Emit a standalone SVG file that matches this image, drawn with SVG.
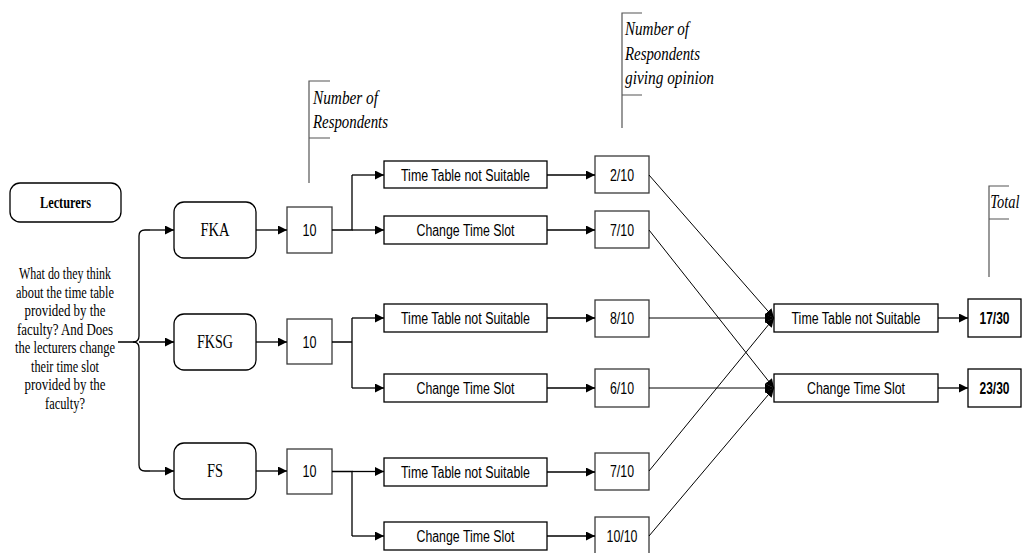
<svg xmlns="http://www.w3.org/2000/svg" width="1025" height="553" viewBox="0 0 1025 553">
<defs>
<marker id="arr" markerUnits="userSpaceOnUse" markerWidth="10" markerHeight="9" refX="9" refY="4.5" orient="auto">
<path d="M0,0 L9,4.5 L0,9 z" fill="#000"/>
</marker>
<style>
.rbox{fill:#fff;stroke:#000;stroke-width:1.3}
.gbox{fill:#fff;stroke:#3a3a3a;stroke-width:1.3}
.sbox{fill:#fff;stroke:#000;stroke-width:1.3}
.ln{fill:none;stroke:#000;stroke-width:1.3}
.ar{fill:none;stroke:#000;stroke-width:1.3;marker-end:url(#arr)}
.dg{fill:none;stroke:#000;stroke-width:1;marker-end:url(#arr)}
.br{fill:none;stroke:#555;stroke-width:1.2}
.sans{font-family:"Liberation Sans",Arial,sans-serif;font-size:16px;fill:#000;text-anchor:middle}
.bold{font-weight:bold}
.serif{font-family:"Liberation Serif","Times New Roman",serif;fill:#000;text-anchor:middle}
.q{font-size:16px}
.ital{font-family:"Liberation Serif","Times New Roman",serif;font-style:italic;font-size:19px;fill:#000}
</style>
</defs>
<rect width="1025" height="553" fill="#fff"/>

<g id="lecturers">
<rect class="rbox" x="10" y="183" width="111" height="39" rx="10"/>
<text class="serif bold" x="65.5" y="207.5" font-size="16" textLength="51" lengthAdjust="spacingAndGlyphs">Lecturers</text>
</g>

<g id="question">
<text class="serif q" x="65" y="279" textLength="92" lengthAdjust="spacingAndGlyphs">What do they think</text>
<text class="serif q" x="65" y="297.5" textLength="98" lengthAdjust="spacingAndGlyphs">about the time table</text>
<text class="serif q" x="65" y="316" textLength="81" lengthAdjust="spacingAndGlyphs">provided by the</text>
<text class="serif q" x="65" y="334.5" textLength="96" lengthAdjust="spacingAndGlyphs">faculty? And Does</text>
<text class="serif q" x="65" y="353" textLength="100" lengthAdjust="spacingAndGlyphs">the lecturers change</text>
<text class="serif q" x="65" y="371.5" textLength="68" lengthAdjust="spacingAndGlyphs">their time slot</text>
<text class="serif q" x="65" y="390" textLength="81" lengthAdjust="spacingAndGlyphs">provided by the</text>
<text class="serif q" x="65" y="408.5" textLength="40" lengthAdjust="spacingAndGlyphs">faculty?</text>
</g>

<g id="label-respondents">
<path class="br" d="M330,81 H309 V183 M309,138 H330"/>
<text class="ital" x="313" y="104" textLength="65" lengthAdjust="spacingAndGlyphs">Number of</text>
<text class="ital" x="313" y="128" textLength="75" lengthAdjust="spacingAndGlyphs">Respondents</text>
</g>
<g id="label-opinion">
<path class="br" d="M642,13 H622 V128 M622,95 H642"/>
<text class="ital" x="625" y="35" textLength="64" lengthAdjust="spacingAndGlyphs">Number of</text>
<text class="ital" x="625" y="60" textLength="75" lengthAdjust="spacingAndGlyphs">Respondents</text>
<text class="ital" x="625" y="84" textLength="89" lengthAdjust="spacingAndGlyphs">giving opinion</text>
</g>
<g id="label-total">
<path class="br" d="M1009,186 H989 V277 M989,219 H1009"/>
<text class="ital" transform="scale(0.76,1)" x="1303" y="208">Total</text>
</g>

<g id="fka">
<rect class="rbox" x="174" y="202" width="82" height="56" rx="10"/>
<text class="serif" x="215" y="236" font-size="18" textLength="29" lengthAdjust="spacingAndGlyphs">FKA</text>
</g>
<g id="fksg">
<rect class="rbox" x="174" y="314" width="82" height="56" rx="10"/>
<text class="serif" x="215" y="348" font-size="18" textLength="36" lengthAdjust="spacingAndGlyphs">FKSG</text>
</g>
<g id="fs">
<rect class="rbox" x="174" y="443" width="82" height="56" rx="10"/>
<text class="serif" x="215" y="477" font-size="18" textLength="16" lengthAdjust="spacingAndGlyphs">FS</text>
</g>

<g id="n-fka">
<rect class="gbox" x="287" y="207" width="45" height="46"/>
<text class="sans" x="309.5" y="236" textLength="14" lengthAdjust="spacingAndGlyphs">10</text>
</g>
<g id="n-fksg">
<rect class="gbox" x="287" y="319" width="45" height="45"/>
<text class="sans" x="309.5" y="348" textLength="14" lengthAdjust="spacingAndGlyphs">10</text>
</g>
<g id="n-fs">
<rect class="gbox" x="287" y="449" width="45" height="45"/>
<text class="sans" x="309.5" y="477" textLength="14" lengthAdjust="spacingAndGlyphs">10</text>
</g>

<g id="tt-fka">
<rect class="sbox" x="384" y="161" width="163" height="27"/>
<text class="sans" x="465.5" y="180.5" textLength="129" lengthAdjust="spacingAndGlyphs">Time Table not Suitable</text>
</g>
<g id="cs-fka">
<rect class="sbox" x="384" y="216" width="163" height="28"/>
<text class="sans" x="465.5" y="236" textLength="98" lengthAdjust="spacingAndGlyphs">Change Time Slot</text>
</g>
<g id="tt-fksg">
<rect class="sbox" x="384" y="304" width="163" height="28"/>
<text class="sans" x="465.5" y="324" textLength="129" lengthAdjust="spacingAndGlyphs">Time Table not Suitable</text>
</g>
<g id="cs-fksg">
<rect class="sbox" x="384" y="374" width="163" height="28"/>
<text class="sans" x="465.5" y="394" textLength="98" lengthAdjust="spacingAndGlyphs">Change Time Slot</text>
</g>
<g id="tt-fs">
<rect class="sbox" x="384" y="458" width="163" height="28"/>
<text class="sans" x="465.5" y="478" textLength="129" lengthAdjust="spacingAndGlyphs">Time Table not Suitable</text>
</g>
<g id="cs-fs">
<rect class="sbox" x="384" y="522" width="163" height="28"/>
<text class="sans" x="465.5" y="542" textLength="98" lengthAdjust="spacingAndGlyphs">Change Time Slot</text>
</g>

<g id="r-fka-tt">
<rect class="gbox" x="595" y="156" width="54" height="37"/>
<text class="sans" x="622" y="180.5" textLength="24" lengthAdjust="spacingAndGlyphs">2/10</text>
</g>
<g id="r-fka-cs">
<rect class="gbox" x="595" y="211" width="54" height="37"/>
<text class="sans" x="622" y="235.5" textLength="24" lengthAdjust="spacingAndGlyphs">7/10</text>
</g>
<g id="r-fksg-tt">
<rect class="gbox" x="595" y="300" width="54" height="37"/>
<text class="sans" x="622" y="324" textLength="24" lengthAdjust="spacingAndGlyphs">8/10</text>
</g>
<g id="r-fksg-cs">
<rect class="gbox" x="595" y="369" width="54" height="38"/>
<text class="sans" x="622" y="394" textLength="24" lengthAdjust="spacingAndGlyphs">6/10</text>
</g>
<g id="r-fs-tt">
<rect class="gbox" x="595" y="453" width="54" height="37"/>
<text class="sans" x="622" y="477" textLength="24" lengthAdjust="spacingAndGlyphs">7/10</text>
</g>
<g id="r-fs-cs">
<rect class="gbox" x="595" y="517" width="54" height="38"/>
<text class="sans" x="622" y="541.5" textLength="31" lengthAdjust="spacingAndGlyphs">10/10</text>
</g>

<g id="tt-all">
<rect class="sbox" x="774" y="304" width="164" height="28"/>
<text class="sans" x="856" y="324" textLength="129" lengthAdjust="spacingAndGlyphs">Time Table not Suitable</text>
</g>
<g id="cs-all">
<rect class="sbox" x="774" y="374" width="164" height="28"/>
<text class="sans" x="856" y="394" textLength="98" lengthAdjust="spacingAndGlyphs">Change Time Slot</text>
</g>
<g id="total-tt">
<rect class="sbox" x="968" y="299" width="53" height="38"/>
<text class="sans bold" x="994.5" y="324" textLength="30" lengthAdjust="spacingAndGlyphs">17/30</text>
</g>
<g id="total-cs">
<rect class="sbox" x="968" y="369" width="53" height="38"/>
<text class="sans bold" x="994.5" y="394" textLength="30" lengthAdjust="spacingAndGlyphs">23/30</text>
</g>

<g id="connectors">
<path class="ln" d="M118,342 H133 Q139,342 139,336 V236 Q139,230 145,230 H150"/>
<path class="ln" d="M133,342 Q139,342 139,348 V465 Q139,471 145,471 H150"/>
<path class="ar" d="M150,230 H174"/>
<path class="ar" d="M139,342 H174"/>
<path class="ar" d="M150,471 H174"/>

<path class="ar" d="M256,230 H287"/>
<path class="ar" d="M256,342 H287"/>
<path class="ar" d="M256,471 H287"/>

<path class="ln" d="M332,230 H352 V175"/>
<path class="ar" d="M352,175 H384"/>
<path class="ar" d="M352,230 H384"/>
<path class="ln" d="M332,342 H352 M352,318 V388"/>
<path class="ar" d="M352,318 H384"/>
<path class="ar" d="M352,388 H384"/>
<path class="ln" d="M332,471.5 H352 V536"/>
<path class="ar" d="M352,471.5 H384"/>
<path class="ar" d="M352,536 H384"/>

<path class="ar" d="M547,175 H595"/>
<path class="ar" d="M547,230 H595"/>
<path class="ar" d="M547,318 H595"/>
<path class="ar" d="M547,388 H595"/>
<path class="ar" d="M547,472 H595"/>
<path class="ar" d="M547,536 H595"/>

<path class="dg" d="M649,175 L774,318"/>
<path class="dg" d="M649,230 L774,388"/>
<path class="dg" d="M649,318 L774,318"/>
<path class="dg" d="M649,388 L774,388"/>
<path class="dg" d="M649,471 L774,318"/>
<path class="dg" d="M649,536 L774,388"/>

<path class="ar" d="M938,318 H968"/>
<path class="ar" d="M938,388 H968"/>
</g>
</svg>
